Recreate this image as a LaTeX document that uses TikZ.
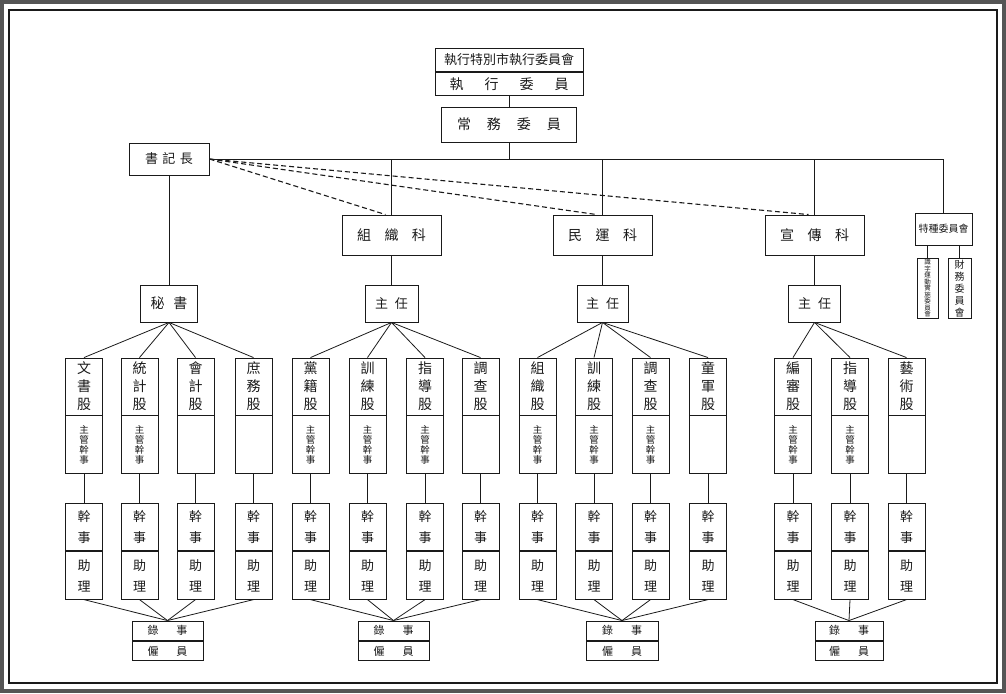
\documentclass[tikz,border=0pt]{standalone}
\usepackage{fontspec}
\usepackage{tikz}
\usetikzlibrary{positioning}
\newfontfamily\cjk{Noto Sans CJK TC}
\definecolor{Ink}{HTML}{1A1A1A}
\definecolor{Edge}{HTML}{555555}

\tikzset{
  box/.style={draw=Ink,line width=0.9pt,inner sep=0pt,align=center,text=Ink,
    font=\cjk\fontsize{13}{15}\selectfont},
  colname/.style={box,minimum width=37pt,minimum height=57pt,
    font=\cjk\fontsize{14}{18}\selectfont},
  colsub/.style={box,minimum width=37pt,minimum height=58pt,
    font=\cjk\fontsize{9.5}{10}\selectfont},
  staff/.style={box,minimum width=37pt,minimum height=47.5pt,
    font=\cjk\fontsize{13}{21}\selectfont},
  clerk/.style={box,minimum width=71pt,minimum height=19.5pt,
    font=\cjk\fontsize{11}{12}\selectfont},
  link/.style={draw=Ink,line width=0.8pt},
  dashlink/.style={draw=Ink,line width=1.1pt,dash pattern=on 5pt off 3pt},
}

\begin{document}
\begin{tikzpicture}[x=1pt,y=-1pt]
\useasboundingbox (0,0) rectangle (1006,693);
\draw[Edge,line width=4pt] (2,2) rectangle (1004,691);
\draw[Ink,line width=1.2pt] (9,10) rectangle (997,683);

% top of the chart
\node[box,minimum width=148pt,minimum height=23.5pt] (wyh) at (509,59.75)
  {執行特別市執行委員會};
\node[box,minimum width=148pt,minimum height=23.5pt,below=0pt of wyh,
  font=\cjk\fontsize{14}{15}\selectfont] (wyr)
  {執\hspace{21pt}行\hspace{21pt}委\hspace{21pt}員};
\node[box,minimum width=135pt,minimum height=35pt,
  font=\cjk\fontsize{14}{15}\selectfont] (cwy) at (509,124.5)
  {常\hspace{16pt}務\hspace{16pt}委\hspace{16pt}員};
\node[box,minimum width=80pt,minimum height=32pt] (bsj) at (169,159)
  {書\hspace{4.5pt}記\hspace{4.5pt}長};

% departments
\foreach \id/\x/\name in {zz/391.5/{組\hspace{13.5pt}織\hspace{13.5pt}科},
    mm/602.5/{民\hspace{13.5pt}運\hspace{13.5pt}科},
    xx/814.5/{宣\hspace{13.5pt}傳\hspace{13.5pt}科}}{
  \node[box,minimum width=99pt,minimum height=40pt,
    font=\cjk\fontsize{14}{15}\selectfont] (k\id) at (\x,235) {\name};
}
\node[box,minimum width=57pt,minimum height=32pt,
  font=\cjk\fontsize{10}{11}\selectfont] (tzw) at (943.5,229) {特種委員會};
\node[box,minimum width=21pt,minimum height=60pt,
  font=\cjk\fontsize{6.5}{6.5}\selectfont] (szy) at (927.5,288.5)
  {識\\字\\運\\動\\實\\施\\委\\員\\會};
\node[box,minimum width=23pt,minimum height=60pt,
  font=\cjk\fontsize{10}{12}\selectfont] (cwh) at (959.5,288.5)
  {財\\務\\委\\員\\會};

% heads of the sections
\node[box,minimum width=57pt,minimum height=37pt,
  font=\cjk\fontsize{14}{15}\selectfont] (hs) at (169,303.5)
  {秘\hspace{9pt}書};
\foreach \g/\x/\w in {z/391.5/53,m/602.5/51,x/814.5/52}{
  \node[box,minimum width=\w pt,minimum height=37pt] (h\g) at (\x,303.5)
    {主\hspace{7pt}任};
}

% sections, each with its staff
\foreach \id/\x/\name/\sub in {
    s1/84/{文\\書\\股}/{主\\管\\幹\\事},
    s2/139.5/{統\\計\\股}/{主\\管\\幹\\事},
    s3/195.5/{會\\計\\股}/{},
    s4/253.5/{庶\\務\\股}/{},
    z1/310.5/{黨\\籍\\股}/{主\\管\\幹\\事},
    z2/367.5/{訓\\練\\股}/{主\\管\\幹\\事},
    z3/425/{指\\導\\股}/{主\\管\\幹\\事},
    z4/480.5/{調\\查\\股}/{},
    m1/537.5/{組\\織\\股}/{主\\管\\幹\\事},
    m2/594/{訓\\練\\股}/{主\\管\\幹\\事},
    m3/650.5/{調\\查\\股}/{主\\管\\幹\\事},
    m4/708/{童\\軍\\股}/{},
    x1/793/{編\\審\\股}/{主\\管\\幹\\事},
    x2/850/{指\\導\\股}/{主\\管\\幹\\事},
    x3/906.5/{藝\\術\\股}/{}}{
  \node[colname] (n\id) at (\x,386.5) {\name};
  \node[colsub,below=0pt of n\id] (u\id) {\sub};
  \node[staff] (t\id) at (\x,527) {幹\\事};
  \node[staff,below=0pt of t\id] (b\id) {助\\理};
  \draw[link] (u\id.south) -- (t\id.north);
}

% clerks at the foot
\foreach \g/\x/\w in {s/167.5/71,z/393.5/71,m/622/72,x/849/68}{
  \node[clerk,minimum width=\w pt] (l\g) at (\x,630.75)
    {錄\hspace{18pt}事};
  \node[clerk,minimum width=\w pt,below=0pt of l\g] (y\g)
    {僱\hspace{18pt}員};
}

% connectors
\draw[link] (wyr.south) -- (cwy.north);
\draw[link] (bsj.east) -| (tzw.north);
\draw[link] (cwy.south) -- (cwy.south |- bsj.east);
\foreach \id in {zz,mm,xx}{
  \draw[link] (k\id.north) -- (k\id.north |- bsj.east);
  \draw[dashlink] (bsj.east) -- ([xshift=-6pt]k\id.north);
}
\draw[link] (bsj.south) -- (hs.north);
\draw[link] (kzz.south) -- (hz.north);
\draw[link] (kmm.south) -- (hm.north);
\draw[link] (kxx.south) -- (hx.north);
\draw[link] (tzw.south -| szy.north) -- (szy.north);
\draw[link] (tzw.south -| cwh.north) -- (cwh.north);
\foreach \g/\n in {s/4,z/4,m/4,x/3}{
  \foreach \i in {1,...,\n}{
    \draw[link] (h\g.south) -- (n\g\i.north);
    \draw[link] (b\g\i.south) -- (l\g.north);
  }
}
\end{tikzpicture}
\end{document}
